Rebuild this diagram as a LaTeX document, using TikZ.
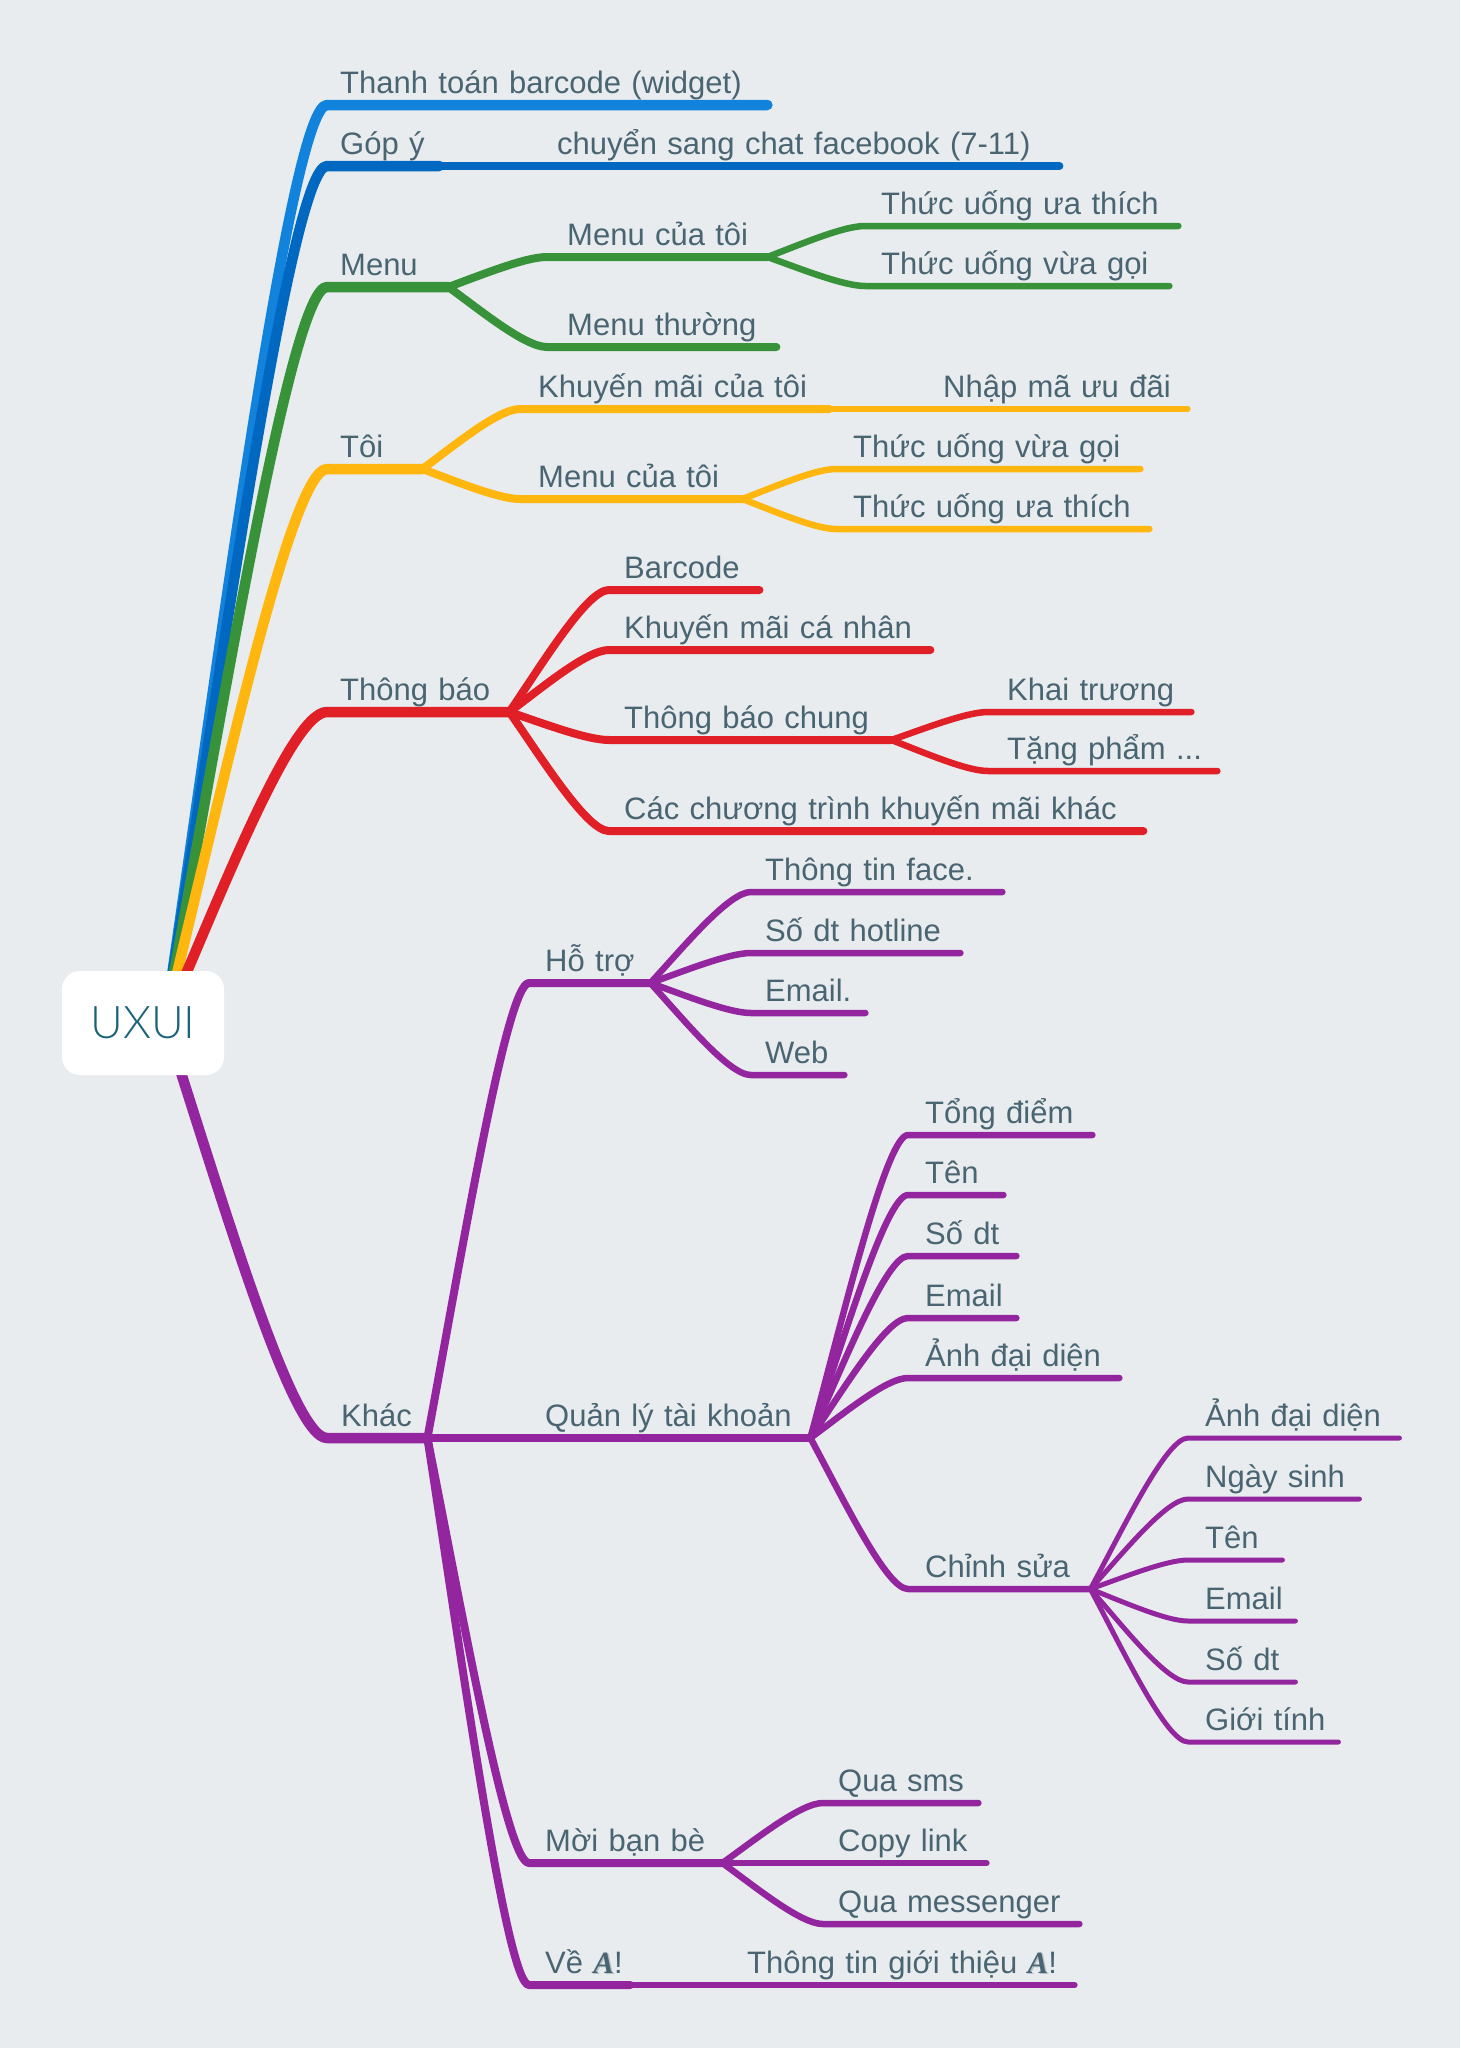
\documentclass[tikz,border=0pt]{standalone}
\usepackage{fontspec}
\setmainfont{Liberation Sans}
\newfontfamily\rootfont{Lato Light}
\newfontfamily\logofont{Liberation Serif}
\usetikzlibrary{calc,backgrounds}
\definecolor{bgc}{HTML}{E8ECEF}
\definecolor{txt}{HTML}{4A6572}
\definecolor{rootc}{HTML}{1B6478}
\definecolor{cA}{HTML}{1283DD}
\definecolor{cB}{HTML}{0068C0}
\definecolor{cG}{HTML}{379239}
\definecolor{cY}{HTML}{FFB60F}
\definecolor{cR}{HTML}{E01F26}
\definecolor{cP}{HTML}{93269F}
\newcommand{\logoA}{\begingroup\logofont\bfseries\itshape\makebox[0pt][l]{\hspace{1.5pt}\raisebox{-1pt}{\textcolor{txt!40}{A}}}\textcolor{txt}{A}\endgroup}
% \topicnode{name}{x start}{x end}{y line}{text offset}{text}
\newcommand{\topicnode}[6]{%
  \pgfmathsetlengthmacro{\wd@t}{#3-#2}%
  \node[topic,text width=\wdt,anchor=south west] (#1) at (#2,#4) {\hspace*{#5pt}\mbox{#6}};}
\makeatletter
\renewcommand{\topicnode}[6]{%
  \pgfmathsetlengthmacro{\wdt}{(#3)-(#2)}%
  \node[topic,text width=\wdt,anchor=south west] (#1) at (#2,#4) {\hspace*{#5pt}\mbox{#6}};}
\makeatother
% \bough{colour}{width}{parent}{child}
\newcommand{\bough}[4]{%
  \draw[color=#1,line width=#2pt,line cap=round,line join=round]
    let \p1=(#3), \p2=(#4.south west), \p3=(#4.south east) in
    (\p1) .. controls ({\x1+.35*(\x2-\x1)},{\y1+.42*(\y2-\y1)}) and ({\x2-.22*(\x2-\x1)},\y2) .. (\p2) -- (\p3);}
\tikzset{
  topic/.style={inner sep=0pt,text height=23pt,text depth=11pt,align=left,text=txt,font=\fontsize{31}{31}\selectfont},
  rootbox/.style={fill=white,rounded corners=18pt,minimum width=162pt,minimum height=104pt,inner sep=0pt,text=rootc,font=\rootfont\fontsize{45}{45}\selectfont}
}
\begin{document}
\begin{tikzpicture}[x=1pt,y=-1pt]
\useasboundingbox (0,0) rectangle (1460,2048);
\node[rootbox] (root) at (143,1023) {UXUI};
\coordinate (hub) at (165,1023);
% level 1
\topicnode{t1}{327}{767}{105}{13}{Thanh toán barcode (widget)}
\topicnode{t2}{327}{439}{166}{13}{Góp ý}
\topicnode{t2a}{439}{1059}{166}{118}{chuyển sang chat facebook (7-11)}
\topicnode{t3}{327}{448}{287}{13}{Menu}
\topicnode{t3a}{547}{767}{257}{20}{Menu của tôi}
\topicnode{t3a1}{865}{1178}{226}{16}{Thức uống ưa thích}
\topicnode{t3a2}{865}{1169}{286}{16}{Thức uống vừa gọi}
\topicnode{t3b}{547}{776}{347}{20}{Menu thường}
\topicnode{t4}{327}{422}{469}{13}{Tôi}
\topicnode{t4a}{520}{829}{409}{18}{Khuyến mãi của tôi}
\topicnode{t4a1}{829}{1187}{409}{114}{Nhập mã ưu đãi}
\topicnode{t4b}{520}{742}{499}{18}{Menu của tôi}
\topicnode{t4b1}{836}{1140}{469}{17}{Thức uống vừa gọi}
\topicnode{t4b2}{836}{1149}{529}{17}{Thức uống ưa thích}
\topicnode{t5}{327}{509}{712}{13}{Thông báo}
\topicnode{t5a}{609}{759}{590}{15}{Barcode}
\topicnode{t5b}{609}{930}{650}{15}{Khuyến mãi cá nhân}
\topicnode{t5c}{609}{891}{740}{15}{Thông báo chung}
\topicnode{t5c1}{988}{1191}{712}{19}{Khai trương}
\topicnode{t5c2}{988}{1217}{771}{19}{Tặng phẩm ...}
\topicnode{t5d}{609}{1143}{831}{15}{Các chương trình khuyến mãi khác}
\topicnode{t6}{327}{427}{1438}{14}{Khác}
\topicnode{t6a}{529}{650}{983}{16}{Hỗ trợ}
\topicnode{t6a1}{751}{1002}{892}{14}{Thông tin face.}
\topicnode{t6a2}{751}{960}{953}{14}{Số dt hotline}
\topicnode{t6a3}{751}{865}{1013}{14}{Email.}
\topicnode{t6a4}{751}{844}{1075}{14}{Web}
\topicnode{t6b}{427}{810}{1438}{118}{Quản lý tài khoản}
\topicnode{t6b1}{908}{1092}{1135}{17}{Tổng điểm}
\topicnode{t6b2}{908}{1003}{1195}{17}{Tên}
\topicnode{t6b3}{908}{1016}{1256}{17}{Số dt}
\topicnode{t6b4}{908}{1016}{1318}{17}{Email}
\topicnode{t6b5}{908}{1119}{1378}{17}{Ảnh đại diện}
\topicnode{t6b6}{908}{1090}{1589}{17}{Chỉnh sửa}
\topicnode{t6c1}{1188}{1399}{1438}{17}{Ảnh đại diện}
\topicnode{t6c2}{1188}{1359}{1499}{17}{Ngày sinh}
\topicnode{t6c3}{1188}{1282}{1560}{17}{Tên}
\topicnode{t6c4}{1188}{1295}{1621}{17}{Email}
\topicnode{t6c5}{1188}{1295}{1682}{17}{Số dt}
\topicnode{t6c6}{1188}{1338}{1742}{17}{Giới tính}
\topicnode{t6d}{529}{722}{1863}{16}{Mời bạn bè}
\topicnode{t6d1}{823}{978}{1803}{15}{Qua sms}
\topicnode{t6d2}{823}{986}{1863}{15}{Copy link}
\topicnode{t6d3}{823}{1079}{1924}{15}{Qua messenger}
\topicnode{t6e}{529}{630}{1985}{16}{Về \logoA!}
\topicnode{t6e1}{630}{1074}{1985}{117}{Thông tin giới thiệu \logoA!}
\begin{scope}[on background layer]
\fill[bgc] (0,0) rectangle (1460,2048);
\bough{cA}{10.5}{hub}{t1}
\bough{cB}{10.5}{hub}{t2}
\bough{cB}{8}{t2.south east}{t2a}
\bough{cG}{10.5}{hub}{t3}
\bough{cG}{8}{t3.south east}{t3a}
\bough{cG}{8}{t3.south east}{t3b}
\bough{cG}{6.5}{t3a.south east}{t3a1}
\bough{cG}{6.5}{t3a.south east}{t3a2}
\bough{cY}{10.5}{hub}{t4}
\bough{cY}{8}{t4.south east}{t4a}
\bough{cY}{8}{t4.south east}{t4b}
\bough{cY}{6.5}{t4a.south east}{t4a1}
\bough{cY}{6.5}{t4b.south east}{t4b1}
\bough{cY}{6.5}{t4b.south east}{t4b2}
\bough{cR}{10.5}{hub}{t5}
\bough{cR}{8}{t5.south east}{t5a}
\bough{cR}{8}{t5.south east}{t5b}
\bough{cR}{8}{t5.south east}{t5c}
\bough{cR}{8}{t5.south east}{t5d}
\bough{cR}{6.5}{t5c.south east}{t5c1}
\bough{cR}{6.5}{t5c.south east}{t5c2}
\bough{cP}{10.5}{hub}{t6}
\bough{cP}{8}{t6.south east}{t6a}
\bough{cP}{8}{t6.south east}{t6b}
\bough{cP}{8}{t6.south east}{t6d}
\bough{cP}{8}{t6.south east}{t6e}
\bough{cP}{6.5}{t6a.south east}{t6a1}
\bough{cP}{6.5}{t6a.south east}{t6a2}
\bough{cP}{6.5}{t6a.south east}{t6a3}
\bough{cP}{6.5}{t6a.south east}{t6a4}
\bough{cP}{6.5}{t6b.south east}{t6b1}
\bough{cP}{6.5}{t6b.south east}{t6b2}
\bough{cP}{6.5}{t6b.south east}{t6b3}
\bough{cP}{6.5}{t6b.south east}{t6b4}
\bough{cP}{6.5}{t6b.south east}{t6b5}
\bough{cP}{6.5}{t6b.south east}{t6b6}
\bough{cP}{5}{t6b6.south east}{t6c1}
\bough{cP}{5}{t6b6.south east}{t6c2}
\bough{cP}{5}{t6b6.south east}{t6c3}
\bough{cP}{5}{t6b6.south east}{t6c4}
\bough{cP}{5}{t6b6.south east}{t6c5}
\bough{cP}{5}{t6b6.south east}{t6c6}
\bough{cP}{6.5}{t6d.south east}{t6d1}
\bough{cP}{6.5}{t6d.south east}{t6d2}
\bough{cP}{6.5}{t6d.south east}{t6d3}
\bough{cP}{6.5}{t6e.south east}{t6e1}
\end{scope}
\end{tikzpicture}
\end{document}
